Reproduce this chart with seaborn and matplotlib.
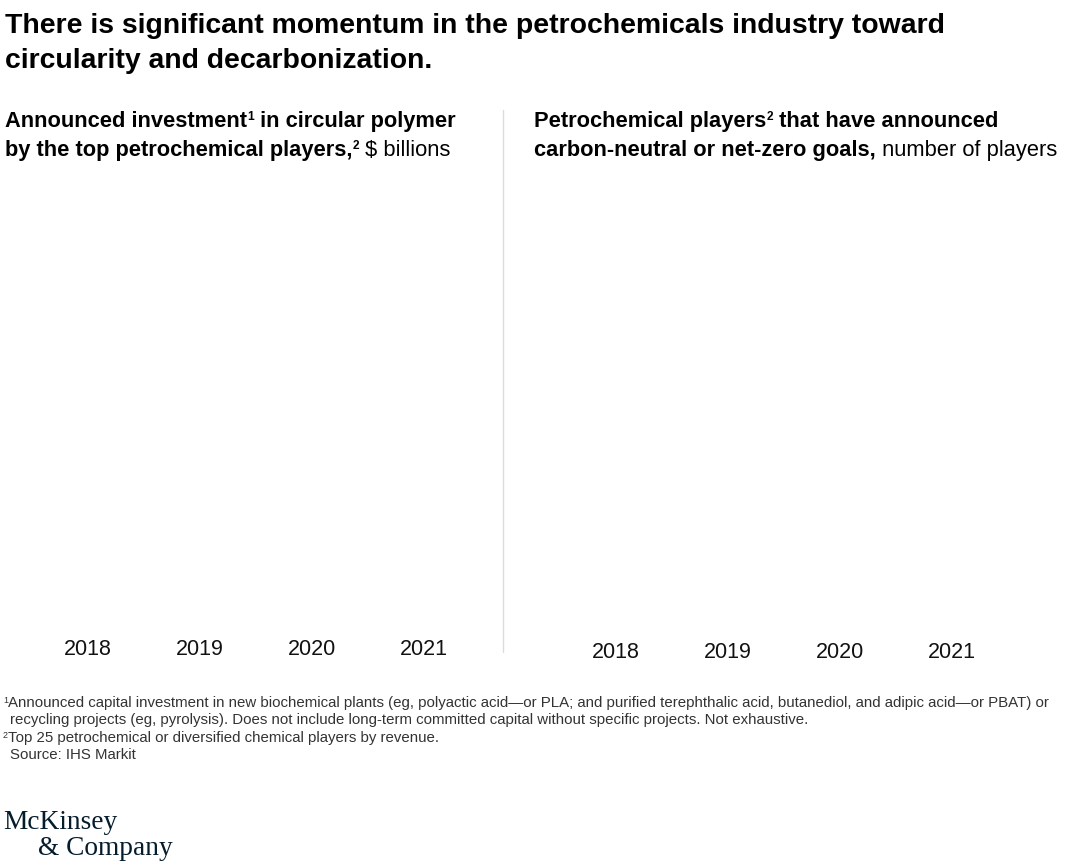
import matplotlib
matplotlib.use("Agg")
import matplotlib.pyplot as plt
from matplotlib.lines import Line2D
from matplotlib import font_manager
import seaborn as sns
import pandas as pd

# ---------------- data ----------------
years = ["2018", "2019", "2020", "2021"]
# No bars are visible in the reference picture -> zero height
investment_bn = [0, 0, 0, 0]
players_count = [0, 0, 0, 0]

title_lines = [
    "There is significant momentum in the petrochemicals industry toward",
    "circularity and decarbonization.",
]
left_sub = [
    [("Announced investment", "bold", 1, 0), ("1", "bold", 0.55, 0.32), (" in circular polymer", "bold", 1, 0)],
    [("by the top petrochemical players,", "bold", 1, 0), ("2", "bold", 0.55, 0.32), (" $ billions", "normal", 1, 0)],
]
right_sub = [
    [("Petrochemical players", "bold", 1, 0), ("2", "bold", 0.55, 0.32), (" that have announced", "bold", 1, 0)],
    [("carbon-neutral or net-zero goals,", "bold", 1, 0), (" number of players", "normal", 1, 0)],
]
foot_lines = [
    (3, [("1", "normal", 0.6, 0.3), ("Announced capital investment in new biochemical plants (eg, polyactic acid\u2014or PLA; and purified terephthalic acid, butanediol, and adipic acid\u2014or PBAT) or", "normal", 1, 0)]),
    (10, [("recycling projects (eg, pyrolysis). Does not include long-term committed capital without specific projects. Not exhaustive.", "normal", 1, 0)]),
    (3, [("2", "normal", 0.6, 0.3), ("Top 25 petrochemical or diversified chemical players by revenue.", "normal", 1, 0)]),
    (10, [("Source: IHS Markit", "normal", 1, 0)]),
]

# ---------------- style ----------------
sns.set_theme(style="white")
names = {f.name for f in font_manager.fontManager.ttflist}
SANS = "Liberation Sans Narrow" if "Liberation Sans Narrow" in names else "Liberation Sans"
plt.rcParams['font.family'] = [SANS, 'DejaVu Sans']

W, H = 1080, 865
fig = plt.figure(figsize=(W / 100, H / 100), dpi=100)
fig.patch.set_facecolor("white")
renderer = fig.canvas.get_renderer()
PT = 72 / 100  # points per pixel


def fx(x):
    return x / W


def fy(y):
    return 1 - y / H


def measure(parts, size, family=None):
    total = 0
    for txt, wt, sc, rise in parts:
        t = fig.text(0, 0, txt, fontsize=size * sc, fontweight=wt,
                     family=family or [SANS, 'DejaVu Sans'])
        total += t.get_window_extent(renderer).width
        t.remove()
    return total


def fit_size(parts, width, family=None):
    s = 20
    return s * width / measure(parts, s, family)


def draw(x, y, parts, size, color="#000000", family=None):
    cx = x
    for txt, wt, sc, rise in parts:
        t = fig.text(fx(cx), fy(y - rise * size / PT), txt, fontsize=size * sc,
                     fontweight=wt, color=color, va="baseline", ha="left",
                     family=family or [SANS, 'DejaVu Sans'])
        cx += t.get_window_extent(renderer).width


# ---------------- title ----------------
ts = fit_size([(title_lines[0], "bold", 1, 0)], 940)
draw(5, 33, [(title_lines[0], "bold", 1, 0)], ts)
draw(5, 68, [(title_lines[1], "bold", 1, 0)], ts)

# ---------------- subtitles ----------------
ss = fit_size(left_sub[0], 451)
draw(5, 127, left_sub[0], ss)
draw(5, 156, left_sub[1], ss)
draw(534, 127, right_sub[0], ss)
draw(534, 156, right_sub[1], ss)

# divider
fig.add_artist(Line2D([fx(503), fx(503)], [fy(110), fy(652)], color="#dcdcdc", lw=1))

# ---------------- charts ----------------
def panel(left_px, bottom_px, values):
    ax = fig.add_axes([fx(left_px), fy(bottom_px), 448 / W, (bottom_px - 185) / H])
    df = pd.DataFrame({"year": years, "value": values})
    sns.barplot(data=df, x="year", y="value", ax=ax, color="#051c2c", linewidth=0)
    ax.set_ylim(0, 1)
    ax.set_xlim(-0.5, 3.5)
    sns.despine(ax=ax, left=True, bottom=True)
    ax.set_yticks([])
    ax.set_xlabel("")
    ax.set_ylabel("")
    ax.tick_params(axis="x", length=0, pad=5, labelsize=15.5, labelcolor="#111111")
    ax.patch.set_alpha(0)
    return ax


panel(32, 632, investment_bn)
panel(560, 635, players_count)

# ---------------- footnotes ----------------
fs = fit_size(foot_lines[0][1], 1042)
for (x, parts), yb in zip(foot_lines, [707, 724, 742, 759]):
    draw(x, yb, parts, fs, color="#333333")

# ---------------- logo ----------------
SERIF = ["Liberation Serif", "DejaVu Serif"]
ls = fit_size([("McKinsey", "normal", 1, 0)], 114, SERIF)
draw(3, 829, [("McKinsey", "normal", 1, 0)], ls, color="#051c2c", family=SERIF)
draw(38, 855, [("& Company", "normal", 1, 0)], ls, color="#051c2c", family=SERIF)

fig.savefig("out.png", dpi=100, facecolor="white")
